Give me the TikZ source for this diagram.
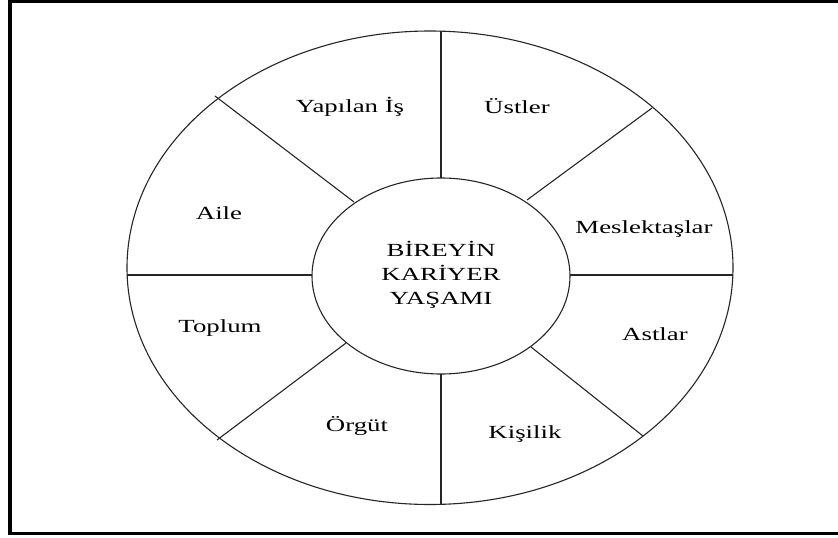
\documentclass[tikz,border=0pt]{standalone}
\usepackage{fontspec}
\setmainfont{Liberation Serif}[FakeStretch=1.45]
\usetikzlibrary{shapes.geometric}
\begin{document}
\begin{tikzpicture}[x=1pt,y=-1pt,
  ring/.style={ellipse, draw=black!85, line width=1.1pt, inner sep=0pt, outer sep=0pt},
  divider/.style={draw=black!85, line width=1.1pt},
  lbl/.style={anchor=base, inner sep=0pt, font=\fontsize{18.5}{24}\selectfont},
  frame/.style={line width=3.5pt, draw=black}]
\useasboundingbox (0,0) rectangle (838,538);
\fill[white] (0,0) rectangle (838,538);
\draw[frame] (838,1.5) -- (10,1.5) -- (10,533.5) -- (838,533.5);
\node[ring, minimum width=606pt, minimum height=473.5pt] (outer) at (430,267.75) {};
\node[ring, minimum width=258pt, minimum height=196pt] (inner) at (441,276) {};
\node[align=center, font=\fontsize{18.5}{24}\selectfont, inner sep=0pt] (title) at (441,275) {BİREYİN\\KARİYER\\YAŞAMI};
% divider end points
\coordinate (iT) at (441,178);   \coordinate (oT) at (441,31.2);
\coordinate (iB) at (441,374);   \coordinate (oB) at (441,504.3);
\coordinate (iL) at (312,275);   \coordinate (oL) at (127,275);
\coordinate (iR) at (570,275);   \coordinate (oR) at (733,275);
\coordinate (iUL) at (354,202);  \coordinate (oUL) at (215,96);
\coordinate (iUR) at (527,200);  \coordinate (oUR) at (652,108);
\coordinate (iLL) at (346,343);  \coordinate (oLL) at (217,440);
\coordinate (iLR) at (531,347);  \coordinate (oLR) at (643,436);
\foreach \p in {T,B,L,R,UL,UR,LL,LR} \draw[divider] (i\p) -- (o\p);
% labels
\node[lbl] (yapilan) at (350,112) {Yapılan İş};
\node[lbl] (ustler) at (517,113) {Üstler};
\node[lbl] (aile) at (219,219) {Aile};
\node[lbl] (meslek) at (644,233) {Meslektaşlar};
\node[lbl] (toplum) at (220,332) {Toplum};
\node[lbl] (astlar) at (655,340) {Astlar};
\node[lbl] (orgut) at (357,431) {Örgüt};
\node[lbl] (kisilik) at (525,438) {Kişilik};
\end{tikzpicture}
\end{document}
